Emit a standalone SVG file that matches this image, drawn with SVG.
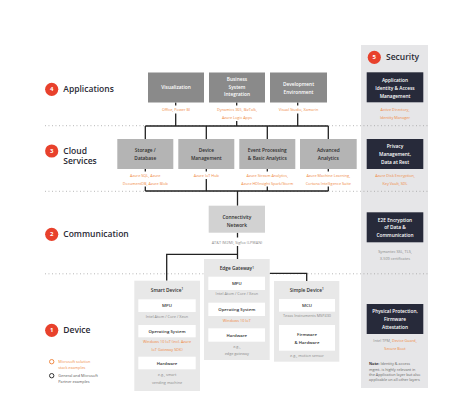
<svg xmlns="http://www.w3.org/2000/svg" width="474" height="400" viewBox="0 0 474 400">
<style>
text{font-family:"Open Sans","Noto Sans",sans-serif}
.sec{font-size:8.5px;font-weight:600;fill:#2a2a35}
.num{font-size:6px;font-weight:700;fill:#fff;text-anchor:middle}
.bw{font-size:4.8px;font-weight:600;fill:#fff;text-anchor:middle}
.bd{font-size:4.8px;font-weight:600;fill:#2e2e2e;text-anchor:middle}
.ib{font-size:4.3px;font-weight:600;fill:#2e2e2e;text-anchor:middle}
.or{font-size:3.8px;fill:#f08a45;text-anchor:middle}
.gr{font-size:3.8px;fill:#8a8a8a;text-anchor:middle}
.lg{font-size:3.8px}
.app{fill:#8a8a8a}
.cld{fill:#b4b4b4}
.sbox{fill:#272a3a}
.dev{fill:#e8e8e8}
.inn{fill:#ffffff}
.dot{stroke:#9a9a9a;stroke-width:0.8;stroke-dasharray:0.9 2.6;fill:none}
.con{stroke:#222;stroke-width:1.3;fill:none}
.circ{fill:#e8412c}
</style>

<!-- security column background -->
<rect x="361" y="45" width="67" height="343" fill="#e6e6e8"/>

<!-- dotted separators -->
<g id="separators">
<line class="dot" x1="45" y1="125.7" x2="428" y2="125.7"/>
<line class="dot" x1="45" y1="191.3" x2="428" y2="191.3"/>
<line class="dot" x1="45" y1="273.8" x2="428" y2="273.8"/>
</g>

<!-- section labels -->
<g id="label-applications">
<circle class="circ" cx="51.7" cy="89.3" r="6.6"/><text class="num" x="51.7" y="91.4">4</text>
<text class="sec" x="63.3" y="92.3">Applications</text>
</g>
<g id="label-cloud">
<circle class="circ" cx="51.7" cy="151" r="6.6"/><text class="num" x="51.7" y="153.1">3</text>
<text class="sec" x="63.3" y="154">Cloud</text>
<text class="sec" x="63.3" y="164.3">Services</text>
</g>
<g id="label-communication">
<circle class="circ" cx="51.7" cy="234.3" r="6.6"/><text class="num" x="51.7" y="236.4">2</text>
<text class="sec" x="63.3" y="237.3">Communication</text>
</g>
<g id="label-device">
<circle class="circ" cx="51.7" cy="330.3" r="6.6"/><text class="num" x="51.7" y="332.4">1</text>
<text class="sec" x="63.3" y="333.3">Device</text>
</g>
<g id="legend">
<circle cx="51.7" cy="361.7" r="2.2" fill="none" stroke="#f08a45" stroke-width="1"/>
<text class="lg" x="58.3" y="363" fill="#f08a45">Microsoft solution</text>
<text class="lg" x="58.3" y="368.6" fill="#f08a45">stack examples</text>
<circle cx="51.7" cy="375.7" r="2.2" fill="none" stroke="#333" stroke-width="1"/>
<text class="lg" x="58.3" y="377" fill="#555">General and Microsoft</text>
<text class="lg" x="58.3" y="382.6" fill="#555">Partner examples</text>
</g>

<!-- connectors -->
<g id="connectors">
<path class="con" d="M175.7 102.5V105.5M175.7 113.5V126M236.7 102.5V105.5M236.7 121V126M297.7 102.5V105.5M297.7 113.5V126"/>
<path class="con" d="M145.3 126H328.3M145.3 126V139M206.3 126V139M267.3 126V139M328.3 126V139"/>
<path class="con" d="M145.3 169V171.5M145.3 186.5V191M206.3 169V171.5M206.3 179V191M267.3 169V171.5M267.3 186.5V191M328.3 169V171.5M328.3 186.5V191"/>
<path class="con" d="M145.3 191H328.3M237.5 191V205.7"/>
<path class="con" d="M237.5 232.7V237.5M237.5 246V259M237.5 254.3H166.7V280.7"/>
<path class="con" d="M269.7 273.3H306.7V281"/>
</g>

<!-- applications -->
<g id="node-visualization">
<rect class="app" x="148" y="72.5" width="56" height="30"/>
<text class="bw" x="176" y="89.3">Visualization</text>
<text class="or" x="176" y="111.3">Office, Power BI</text>
</g>
<g id="node-business">
<rect class="app" x="209" y="72.5" width="56" height="30"/>
<text class="bw" x="237" y="80.8">Business</text>
<text class="bw" x="237" y="88.5">System</text>
<text class="bw" x="237" y="96.3">Integration</text>
<text class="or" x="237" y="111.3">Dynamics 365, BizTalk,</text>
<text class="or" x="237" y="118.6">Azure Logic Apps</text>
</g>
<g id="node-development">
<rect class="app" x="270" y="72.5" width="57" height="30"/>
<text class="bw" x="298.5" y="86">Development</text>
<text class="bw" x="298.5" y="94">Environment</text>
<text class="or" x="298.5" y="111.3">Visual Studio, Xamarin</text>
</g>

<!-- cloud -->
<g id="node-storage">
<rect class="cld" x="117.3" y="139" width="56" height="30"/>
<text class="bd" x="145.3" y="152.4">Storage /</text>
<text class="bd" x="145.3" y="160.4">Database</text>
<text class="or" x="145.3" y="177.3">Azure SQL, Azure</text>
<text class="or" x="145.3" y="184.6">DocumentDB, Azure Blob</text>
</g>
<g id="node-devmgmt">
<rect class="cld" x="178.3" y="139" width="56" height="30"/>
<text class="bd" x="206.3" y="152.4">Device</text>
<text class="bd" x="206.3" y="160.4">Management</text>
<text class="or" x="206.3" y="177.3">Azure IoT Hub</text>
</g>
<g id="node-event">
<rect class="cld" x="239.3" y="139" width="56" height="30"/>
<text class="bd" x="267.3" y="152.4">Event Processing</text>
<text class="bd" x="267.3" y="160.4">&amp; Basic Analytics</text>
<text class="or" x="267.3" y="177.3">Azure Stream Analytics,</text>
<text class="or" x="267.3" y="184.6">Azure HDInsight Spark/Storm</text>
</g>
<g id="node-advanced">
<rect class="cld" x="300" y="139" width="56.7" height="30"/>
<text class="bd" x="328.3" y="152.4">Advanced</text>
<text class="bd" x="328.3" y="160.4">Analytics</text>
<text class="or" x="328.3" y="177.3">Azure Machine Learning,</text>
<text class="or" x="328.3" y="184.6">Cortana Intelligence Suite</text>
</g>

<!-- communication -->
<g id="node-connectivity">
<rect x="208.7" y="205.7" width="56.3" height="27" fill="#d2d2d2"/>
<text class="bd" x="236.9" y="219">Connectivity</text>
<text class="bd" x="236.9" y="226.7">Network</text>
<text class="gr" x="236.9" y="244">AT&amp;T (M2M), Sigfox (LPWAN)</text>
</g>

<!-- devices -->
<g id="node-smart-device">
<rect class="dev" x="134.3" y="280.7" width="65.7" height="110.3"/>
<text class="bd" x="167" y="291.6">Smart Device<tspan font-size="3px" dy="-1.5">1</tspan></text>
<rect class="inn" x="138.3" y="299.3" width="57.4" height="12.7"/>
<text class="ib" x="167" y="307.2">MPU</text>
<text class="gr" x="167" y="318">Intel Atom / Core / Xeon</text>
<rect class="inn" x="138.3" y="325" width="57.4" height="12.3"/>
<text class="ib" x="167" y="332.7">Operating System</text>
<text class="or" x="167" y="343.3">Windows 10 IoT (incl. Azure</text>
<text class="or" x="167" y="351.3">IoT Gateway SDK)</text>
<rect class="inn" x="138.3" y="356.7" width="57.4" height="12.6"/>
<text class="ib" x="167" y="364.5">Hardware</text>
<text class="gr" x="167" y="376">e.g., smart</text>
<text class="gr" x="167" y="383.6">vending machine</text>
</g>
<g id="node-edge-gateway">
<rect class="dev" x="204" y="259" width="65.7" height="101"/>
<text class="bd" x="236.8" y="270">Edge Gateway<tspan font-size="3px" dy="-1.5">1</tspan></text>
<rect class="inn" x="208.3" y="276.7" width="56.7" height="13.3"/>
<text class="ib" x="236.8" y="284.9">MPU</text>
<text class="gr" x="236.8" y="295.3">Intel Atom / Core / Xeon</text>
<rect class="inn" x="208.3" y="302.7" width="56.7" height="13.3"/>
<text class="ib" x="236.8" y="310.9">Operating System</text>
<text class="or" x="236.8" y="322">Windows 10 IoT</text>
<rect class="inn" x="208.3" y="328.3" width="56.7" height="13.4"/>
<text class="ib" x="236.8" y="336.5">Hardware</text>
<text class="gr" x="236.8" y="348">e.g.,</text>
<text class="gr" x="236.8" y="355.3">edge gateway</text>
</g>
<g id="node-simple-device">
<rect class="dev" x="274" y="281" width="65.3" height="80.7"/>
<text class="bd" x="306.7" y="291.6">Simple Device<tspan font-size="3px" dy="-1.5">1</tspan></text>
<rect class="inn" x="279" y="299" width="56" height="12.7"/>
<text class="ib" x="307" y="306.9">MCU</text>
<text class="gr" x="307" y="317.3">Texas Instruments MSP430</text>
<rect class="inn" x="279" y="325" width="56" height="25.7"/>
<text class="ib" x="307" y="336">Firmware</text>
<text class="ib" x="307" y="343.7">&amp; Hardware</text>
<text class="gr" x="307" y="357.3">e.g., motion sensor</text>
</g>

<!-- security -->
<g id="label-security">
<circle class="circ" cx="374.3" cy="57.3" r="6.6"/><text class="num" x="374.3" y="59.4">5</text>
<text class="sec" x="386" y="60.3">Security</text>
</g>
<g id="node-identity">
<rect class="sbox" x="366.7" y="72.3" width="56.6" height="30"/>
<text class="bw" x="395" y="82.4">Application</text>
<text class="bw" x="395" y="90">Identity &amp; Access</text>
<text class="bw" x="395" y="97.7">Management</text>
<text class="or" x="395" y="111.3">Active Directory,</text>
<text class="or" x="395" y="119">Identity Manager</text>
</g>
<g id="node-privacy">
<rect class="sbox" x="366.7" y="139" width="56.6" height="30"/>
<text class="bw" x="395" y="148.4">Privacy</text>
<text class="bw" x="395" y="156.1">Management,</text>
<text class="bw" x="395" y="163.9">Data at Rest</text>
<text class="or" x="395" y="177.3">Azure Disk Encryption,</text>
<text class="or" x="395" y="184.6">Key Vault, SDL</text>
</g>
<g id="node-e2e">
<rect class="sbox" x="366.7" y="212.3" width="56.6" height="30"/>
<text class="bw" x="395" y="221.7">E2E Encryption</text>
<text class="bw" x="395" y="229.4">of Data &amp;</text>
<text class="bw" x="395" y="237">Communication</text>
<text class="gr" x="395" y="253.3">Symantec SSL, TLS,</text>
<text class="gr" x="395" y="259.6">X.509 certificates</text>
</g>
<g id="node-physical">
<rect class="sbox" x="366.7" y="304" width="56.6" height="30"/>
<text class="bw" x="395" y="313.4">Physical Protection,</text>
<text class="bw" x="395" y="321.1">Firmware</text>
<text class="bw" x="395" y="328.8">Attestation</text>
<text class="gr" x="395" y="342.4">Intel TPM, <tspan fill="#f08a45">Device Guard,</tspan></text>
<text class="or" x="395" y="350.4">Secure Boot</text>
<text class="lg" x="369" y="365.3" fill="#666"><tspan font-weight="700" fill="#333">Note:</tspan> Identity &amp; access</text>
<text class="lg" x="369" y="370.6" fill="#666">mgmt. is highly relevant in</text>
<text class="lg" x="369" y="376" fill="#666">the Application layer but also</text>
<text class="lg" x="369" y="381.3" fill="#666">applicable on all other layers</text>
</g>
</svg>
